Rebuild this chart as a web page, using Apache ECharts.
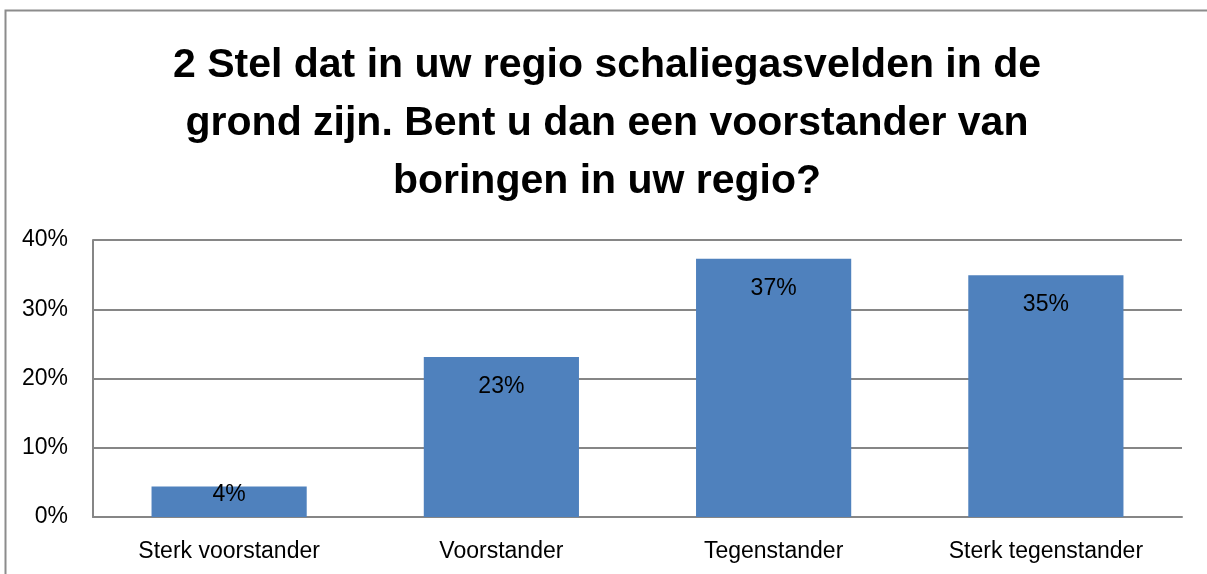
<!DOCTYPE html>
<html>
<head>
<meta charset="utf-8">
<script src="https://cdn.jsdelivr.net/npm/echarts@6/dist/echarts.min.js"></script>
<style>
html,body{margin:0;padding:0;background:#fff;}
#chart{width:1207px;height:574px;}
</style>
</head>
<body>
<div id="chart"></div>
<script>
const titleLines = ['2 Stel dat in uw regio schaliegasvelden in de', 'grond zijn. Bent u dan een voorstander van', 'boringen in uw regio?'];
const categories = ['Sterk voorstander', 'Voorstander', 'Tegenstander', 'Sterk tegenstander'];
const values = [4.4, 23.1, 37.3, 34.9];
const yTicks = [0, 10, 20, 30, 40];

const chart = echarts.init(document.getElementById('chart'), null, {renderer: 'canvas'});
const font = '"Liberation Sans", Arial, sans-serif';
chart.setOption({
  animation: false,
  backgroundColor: '#fff',
  graphic: [{
    type: 'polyline',
    shape: {points: [[5.5, 600], [5.5, 10.5], [1220, 10.5]]},
    style: {stroke: '#8c8c8c', lineWidth: 2, fill: null},
    silent: true
  }, {
    type: 'text',
    x: 607,
    y: 37,
    silent: true,
    style: {
      text: titleLines.join('\n'),
      textAlign: 'center',
      textVerticalAlign: 'top',
      font: 'bold 41px ' + font,
      lineHeight: 58,
      fill: '#000'
    }
  }],
  grid: {left: 93, right: 25, top: 240, bottom: 57, containLabel: false},
  xAxis: {
    type: 'category',
    data: categories,
    axisLine: {lineStyle: {color: '#868686', width: 2}},
    axisTick: {show: false},
    axisLabel: {fontFamily: font, fontSize: 23, color: '#000', margin: 23}
  },
  yAxis: {
    type: 'value',
    min: yTicks[0],
    max: yTicks[yTicks.length - 1],
    interval: 10,
    axisLine: {show: true, lineStyle: {color: '#868686', width: 2}},
    axisTick: {show: false},
    splitLine: {lineStyle: {color: '#868686', width: 2}},
    axisLabel: {fontFamily: font, fontSize: 23, color: '#000', margin: 25, formatter: v => v + '%'}
  },
  series: [{
    type: 'bar',
    barWidth: '57%',
    data: values.map(v => ({
      value: v,
      label: {distance: v < 8 ? -3 : 18}
    })),
    itemStyle: {color: '#4f81bd'},
    label: {
      show: true,
      position: 'insideTop',
      fontFamily: font,
      fontSize: 23,
      color: '#000',
      formatter: p => Math.round(p.value) + '%'
    }
  }]
});
</script>
</body>
</html>
